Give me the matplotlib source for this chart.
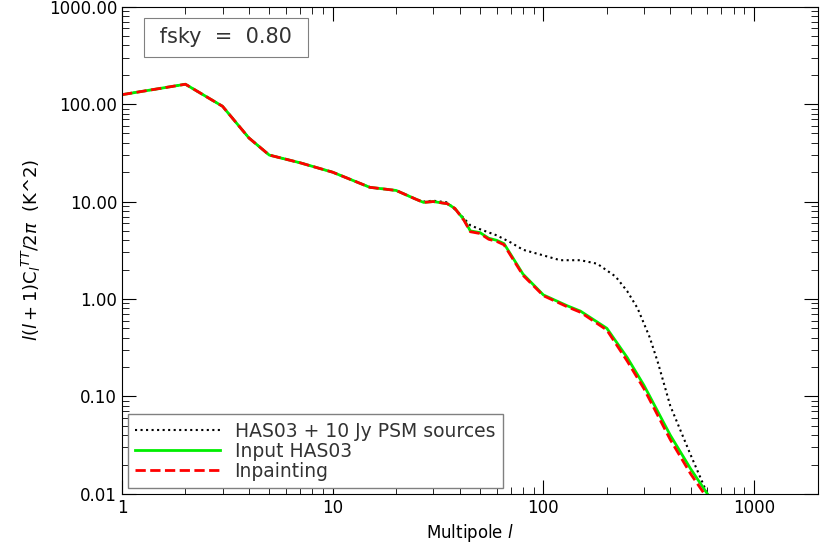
import matplotlib
matplotlib.use("Agg")
import matplotlib.pyplot as plt
from matplotlib.ticker import FixedLocator, FuncFormatter, LogLocator

# Multipole values and spectra
ell = [1, 2, 3, 4, 5, 7, 10, 15, 20, 25, 27, 30, 35, 38, 42, 45, 50, 55, 60, 65,
       80, 100, 130, 150, 200, 250, 300, 400, 500, 600]
input_has03 = [125, 160, 95, 45, 30, 25, 20, 14, 13, 10.5, 9.8, 10, 9.5, 8.5, 6.5,
               5.0, 4.8, 4.2, 4.0, 3.7, 1.8, 1.1, 0.85, 0.75, 0.5, 0.25, 0.13,
               0.04, 0.018, 0.01]
inpainting = [125, 160, 95, 45, 30, 25, 20, 14, 13, 10.5, 9.8, 10, 9.5, 8.5, 6.4,
              4.9, 4.7, 4.1, 3.9, 3.6, 1.75, 1.08, 0.83, 0.73, 0.48, 0.23, 0.12,
              0.036, 0.016, 0.009]
ell_ps = [1, 2, 3, 4, 5, 7, 10, 15, 20, 25, 27, 30, 35, 40, 45, 50, 60, 70, 80,
          100, 120, 150, 180, 220, 250, 280, 320, 350, 400, 500, 600]
with_sources = [125, 160, 95, 45, 30, 25, 20, 14, 13, 10.5, 10, 10.2, 9.8, 7.5,
                5.7, 5.2, 4.5, 3.8, 3.2, 2.8, 2.5, 2.5, 2.3, 1.7, 1.2, 0.8, 0.4,
                0.22, 0.08, 0.025, 0.01]

fig = plt.figure(figsize=(8.30, 5.58), dpi=100)
ax = fig.add_axes([0.147, 0.115, 0.838, 0.873])

ax.plot(ell_ps, with_sources, color="black", linestyle=":", lw=1.5,
        label="HAS03 + 10 Jy PSM sources")
ax.plot(ell, input_has03, color="#00ee00", lw=2, label="Input HAS03")
ax.plot(ell, inpainting, color="red", linestyle="--", lw=2, label="Inpainting")

ax.set_xscale("log")
ax.set_yscale("log")
ax.set_xlim(1, 2000)
ax.set_ylim(0.01, 1000)
ax.xaxis.set_major_locator(FixedLocator([1, 10, 100, 1000]))
ax.xaxis.set_major_formatter(FuncFormatter(lambda v, p: f"{int(v)}"))
ax.yaxis.set_major_locator(FixedLocator([0.01, 0.1, 1, 10, 100, 1000]))
ax.yaxis.set_major_formatter(FuncFormatter(lambda v, p: f"{v:.2f}"))
ax.xaxis.set_minor_locator(LogLocator(subs=range(2, 10)))
ax.yaxis.set_minor_locator(LogLocator(subs=range(2, 10)))
ax.xaxis.set_minor_formatter(FuncFormatter(lambda v, p: ""))
ax.yaxis.set_minor_formatter(FuncFormatter(lambda v, p: ""))
ax.tick_params(which="both", direction="in", top=True, right=True, labelsize=12)
ax.tick_params(which="major", length=10)
ax.tick_params(which="minor", length=5)

ax.set_xlabel(r"Multipole $l$", fontsize=12)
ax.set_ylabel(r"$l(l+1)\mathrm{C}_l{}^{TT}/2\pi$  (K^2)", fontsize=13)

ax.text(0.045, 0.925, " fsky  =  0.80 ", transform=ax.transAxes, fontsize=15,
        color="#333333",
        bbox=dict(boxstyle="square,pad=0.45", fc="white", ec="gray", lw=0.8))

leg = ax.legend(loc="lower left", fontsize=13.5, fancybox=False, framealpha=1,
                edgecolor="gray", handlelength=4.5, borderaxespad=0.3,
                labelspacing=0.05)
for t in leg.get_texts():
    t.set_color("#333333")

fig.savefig("out.png", dpi=100)
